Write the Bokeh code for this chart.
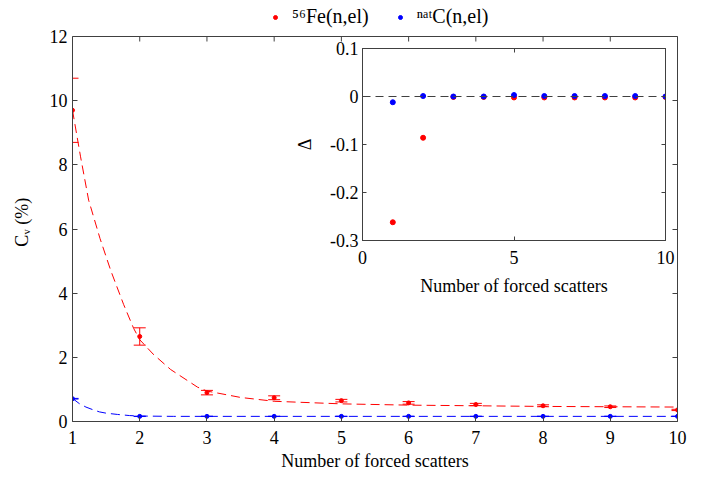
from bokeh.plotting import figure
from bokeh.models import (Range1d, LinearAxis, FixedTicker, Legend, LegendItem, Span)
from bokeh.layouts import column
from bokeh.embed import file_html
from bokeh.resources import INLINE

# ---------------- data ----------------
scatters = [1, 2, 3, 4, 5, 6, 7, 8, 9, 10]
fe_cv = [9.7, 2.65, 0.90, 0.74, 0.65, 0.58, 0.53, 0.49, 0.46, 0.36]
fe_err = [1.0, 0.27, 0.07, 0.06, 0.04, 0.04, 0.035, 0.03, 0.025, 0.02]
c_cv = [0.71, 0.16, 0.16, 0.16, 0.16, 0.16, 0.16, 0.16, 0.16, 0.16]
c_err = [0.01, 0.005, 0.005, 0.005, 0.005, 0.005, 0.005, 0.005, 0.005, 0.005]

fe_fit_x = [1.0, 1.12, 1.24, 1.41, 1.57, 1.76, 1.91, 2.0, 2.2, 2.46, 2.86, 3.0, 3.5, 4.0,
            5.0, 6.0, 7.0, 8.0, 9.0, 10.0]
fe_fit = [9.7, 8.25, 6.9, 5.7, 4.7, 3.65, 2.9, 2.55, 2.1, 1.62, 1.07, 0.95, 0.75, 0.63,
          0.55, 0.51, 0.49, 0.47, 0.46, 0.45]
c_fit_x = [1.0, 1.1, 1.2, 1.3, 1.4, 1.5, 1.67, 1.85, 2.0, 2.5, 3.0, 4.0, 5.0, 6.0, 7.0,
           8.0, 9.0, 10.0]
c_fit = [0.72, 0.56, 0.45, 0.37, 0.30, 0.26, 0.22, 0.185, 0.17, 0.16, 0.16, 0.16, 0.16,
         0.16, 0.16, 0.16, 0.16, 0.16]

delta_fe = [-0.262, -0.086, -0.001, -0.001, -0.002, -0.002, -0.002, -0.002, -0.002, -0.001]
delta_c = [-0.012, 0.001, 0.0, 0.0, 0.003, 0.001, 0.001, 0.001, 0.001, 0.0]

x_ticks = [1, 2, 3, 4, 5, 6, 7, 8, 9, 10]
y_ticks = [0, 2, 4, 6, 8, 10, 12]
y_min, y_max = 0, 12
inset_x_ticks = [0, 5, 10]
inset_y_ticks = [-0.3, -0.2, -0.1, 0, 0.1]
inset_y_labels = ["-0.3", "-0.2", "-0.1", "0", "0.1"]

legend_labels = ["\u2075\u2076Fe(n,el)", "\u207f\u1d43\u1d57C(n,el)"]
y_label = "C\u1d65 (%)" + "\u00a0" * 5

RED = "#ff0000"
BLUE = "#0000ff"
AX = "#404040"
FONT = "Liberation Serif"

# layout (pixels)
W, H = 700, 475
B_LEFT, B_RIGHT, B_BOTTOM = 72, 23, 54
AXES_TOP_PX = 36                       # where the axes box starts below the canvas top
FRAME_H = H - B_BOTTOM                 # frame reaches the canvas top (room for legend)
px_per_unit = (FRAME_H - AXES_TOP_PX) / (y_max - y_min)
y_top = y_max + AXES_TOP_PX / px_per_unit
TICK = 5


def style_axis(ax, ticks, tick_len, show_labels, standoff=5, fsize="18px"):
    ax.ticker = FixedTicker(ticks=ticks)
    ax.major_tick_in = tick_len
    ax.major_tick_out = 0
    ax.minor_tick_in = 0
    ax.minor_tick_out = 0
    ax.axis_line_color = AX
    ax.major_tick_line_color = AX
    ax.major_label_text_font = FONT
    ax.axis_label_text_font = FONT
    ax.axis_label_text_font_style = "normal"
    ax.axis_label_text_color = "#000000"
    ax.axis_label_text_font_size = fsize
    if show_labels:
        ax.major_label_text_color = "#000000"
        ax.major_label_text_font_size = fsize
        ax.major_label_standoff = standoff
    else:
        ax.major_label_text_color = None
        ax.major_label_text_font_size = "1px"
        ax.major_label_standoff = 0


# ---------------- main plot ----------------
p = figure(width=W, height=H, x_range=Range1d(1, 10), y_range=Range1d(y_min, y_top),
           output_backend="svg", toolbar_location=None,
           min_border_left=B_LEFT, min_border_right=B_RIGHT, min_border_top=0,
           min_border_bottom=B_BOTTOM,
           background_fill_color="white", border_fill_color="white")
p.grid.visible = False
p.outline_line_color = None

xb = p.xaxis[0]
style_axis(xb, x_ticks, TICK, True, standoff=9)
xb.axis_label = "Number of forced scatters"
xb.axis_label_standoff = 4
yl = p.yaxis[0]
style_axis(yl, y_ticks, TICK, True, standoff=5)
yl.bounds = (y_min, y_max)
yl.axis_label = y_label
yl.axis_label_standoff = 15

yr = LinearAxis()
style_axis(yr, y_ticks, TICK, False)
yr.bounds = (y_min, y_max)
p.add_layout(yr, "right")

# top edge of the axes box with inward ticks
p.add_layout(Span(location=y_max, dimension="width", line_color=AX, line_width=1))
tick_units = TICK / px_per_unit
p.segment(x0=x_ticks, y0=[y_max] * len(x_ticks), x1=x_ticks,
          y1=[y_max - tick_units] * len(x_ticks), line_color=AX, line_width=1)

p.line(fe_fit_x, fe_fit, line_color=RED, line_dash="9 5", line_width=1)
p.line(c_fit_x, c_fit, line_color=BLUE, line_dash="9 5", line_width=1)

fe_up = [v + e for v, e in zip(fe_cv, fe_err)]
fe_lo = [v - e for v, e in zip(fe_cv, fe_err)]
c_up = [v + e for v, e in zip(c_cv, c_err)]
c_lo = [v - e for v, e in zip(c_cv, c_err)]

p.segment(x0=scatters, y0=fe_lo, x1=scatters, y1=fe_up, line_color=RED, line_width=1)
p.scatter(scatters + scatters, fe_up + fe_lo, marker="dash", size=12, line_color=RED, line_width=1)
p.segment(x0=scatters, y0=c_lo, x1=scatters, y1=c_up, line_color=BLUE, line_width=1)
p.scatter(scatters + scatters, c_up + c_lo, marker="dash", size=12, line_color=BLUE, line_width=1)

fe_pts = p.scatter(scatters, fe_cv, size=4, color=RED)
c_pts = p.scatter(scatters, c_cv, size=4, color=BLUE)

# legend sits inside the (extended) frame, above the axes box
legend = Legend(items=[LegendItem(label=legend_labels[0], renderers=[fe_pts]),
                       LegendItem(label=legend_labels[1], renderers=[c_pts])],
                orientation="horizontal", location=(198, FRAME_H - 28),
                glyph_width=10, glyph_height=20, label_height=20, label_standoff=12,
                spacing=26, padding=0, margin=0, border_line_color=None,
                background_fill_alpha=0, label_text_font=FONT, label_text_font_size="20px",
                label_text_color="#000000")
p.add_layout(legend)

# ---------------- inset ----------------
ins = figure(frame_width=303, frame_height=192, x_range=Range1d(0, 10), y_range=Range1d(-0.3, 0.1),
             output_backend="svg", toolbar_location=None,
             min_border_left=62, min_border_right=12, min_border_top=8, min_border_bottom=62,
             background_fill_color="white", border_fill_color=None)
ins.grid.visible = False
ins.outline_line_color = AX

ixb = ins.xaxis[0]
style_axis(ixb, inset_x_ticks, 4, True, standoff=10)
ixb.axis_label = "Number of forced scatters"
ixb.axis_label_standoff = 9
iyl = ins.yaxis[0]
style_axis(iyl, inset_y_ticks, 4, True, standoff=4)
iyl.major_label_overrides = dict(zip(inset_y_ticks, inset_y_labels))
iyl.axis_label = "Δ"
iyl.axis_label_standoff = 12

ixt = LinearAxis()
style_axis(ixt, inset_x_ticks, 4, False)
ins.add_layout(ixt, "above")
iyr = LinearAxis()
style_axis(iyr, inset_y_ticks, 4, False)
ins.add_layout(iyr, "right")

ins.add_layout(Span(location=0, dimension="width", line_color=AX, line_dash="8 5", line_width=1))
ins.scatter(scatters, delta_fe, size=5, color=RED)
ins.scatter(scatters, delta_c, size=5, color=BLUE)

ins.styles = {"position": "absolute", "left": "290px", "top": "40px", "z-index": "2"}

layout = column(p, ins, styles={"position": "relative"})

open("out.html", "w").write(file_html(layout, INLINE))
